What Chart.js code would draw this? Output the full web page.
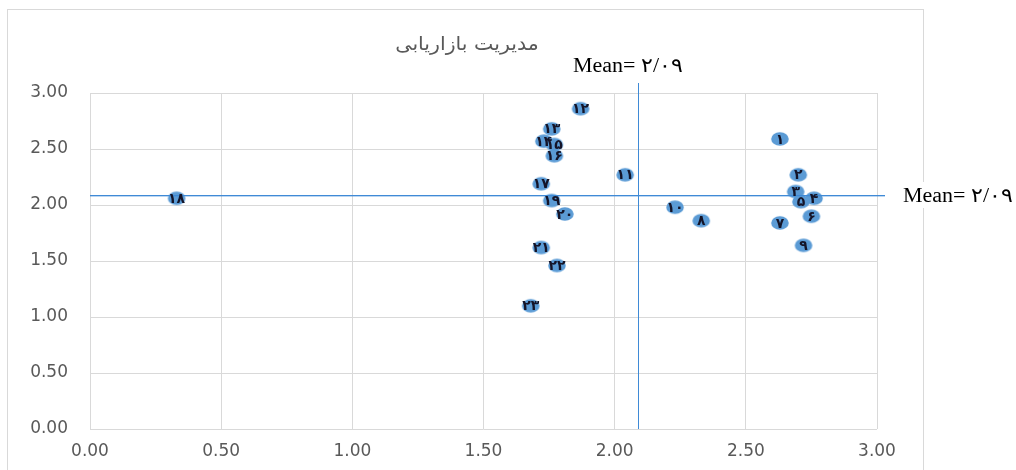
<!DOCTYPE html>
<html>
<head>
<meta charset="utf-8">
<script src="https://cdn.jsdelivr.net/npm/chart.js@4"></script>
<style>
html,body{margin:0;padding:0;background:#fff;}
#wrap{width:1016px;height:470px;position:relative;}
</style>
</head>
<body>
<div id="wrap"><canvas id="c" width="1016" height="470"></canvas></div>
<script>
const title = 'مدیریت بازاریابی';
const pointIds = ['۱','۲','۳','۴','۵','۶','۷','۸','۹','۱۰','۱۱','۱۲','۱۳','۱۴','۱۵','۱۶','۱۷','۱۸','۱۹','۲۰','۲۱','۲۲','۲۳'];
const xValues = [2.63,2.70,2.69,2.76,2.71,2.75,2.63,2.33,2.72,2.23,2.04,1.87,1.76,1.73,1.77,1.77,1.72,0.33,1.76,1.81,1.72,1.78,1.68];
const yValues = [2.59,2.27,2.12,2.06,2.03,1.90,1.84,1.86,1.64,1.98,2.27,2.86,2.68,2.57,2.54,2.44,2.19,2.06,2.04,1.92,1.62,1.46,1.10];
const meanX = 2.09;
const meanY = 2.09;
const meanLabel = 'Mean= ۲/۰۹';
const xTicks = [0,0.5,1,1.5,2,2.5,3];
const yTicks = [0,0.5,1,1.5,2,2.5,3];

const points = xValues.map((x,i)=>({x:x,y:yValues[i]}));

// ellipse marker image
const mk = document.createElement('canvas');
mk.width = 20; mk.height = 16;
(function(){
  const g = mk.getContext('2d');
  g.fillStyle = '#5b9bd5';
  g.beginPath();
  g.ellipse(10,8,8.8,6.8,0,0,Math.PI*2);
  g.fill();
})();

function stretchText(ctx, txt, x, y, sx){
  ctx.save();
  ctx.translate(x,y);
  ctx.scale(sx,1);
  ctx.fillText(txt,0,0);
  ctx.restore();
}

const decor = {
  id:'decor',
  beforeDraw(chart){
    const ctx = chart.ctx;
    ctx.save();
    ctx.fillStyle='#fff';
    ctx.fillRect(0,0,chart.width,chart.height);
    ctx.strokeStyle='#d9d9d9';
    ctx.lineWidth=1;
    ctx.strokeRect(7.5,9.5,916,480);
    ctx.restore();
  },
  afterDatasetsDraw(chart){
    const ctx = chart.ctx;
    const xs = chart.scales.x, ys = chart.scales.y;
    const a = chart.chartArea;
    ctx.save();
    // mean lines
    ctx.fillStyle='#3f8ad6';
    const px = Math.round(xs.getPixelForValue(meanX));
    const py = Math.round(ys.getPixelForValue(meanY));
    ctx.fillRect(px, a.top-10, 1, a.bottom-a.top+10);
    ctx.fillRect(a.left, py, a.right+8-a.left, 1);
    ctx.fillStyle='rgba(63,138,214,0.35)';
    ctx.fillRect(a.left, py+1, a.right+8-a.left, 1);
    // point labels
    const meta = chart.getDatasetMeta(0);
    ctx.fillStyle='#141428';
    ctx.font='bold 14px "DejaVu Sans"';
    ctx.textAlign='center';
    ctx.textBaseline='middle';
    meta.data.forEach((el,i)=>{
      ctx.fillText(pointIds[i], el.x, el.y+1);
    });
    // title
    ctx.fillStyle='#595959';
    ctx.font='19px "DejaVu Sans"';
    stretchText(ctx, title, 467, 45, 1.08);
    // mean labels
    ctx.font='20px "Liberation Serif"';
    ctx.textAlign='left';
    const sx = 1.1;
    const w = ctx.measureText(meanLabel).width*sx;
    ctx.fillStyle='#000';
    stretchText(ctx, meanLabel, px-65, 67, sx);
    ctx.fillStyle='#fff';
    ctx.fillRect(a.right+22, py-13, w+10, 26);
    ctx.fillStyle='#000';
    stretchText(ctx, meanLabel, a.right+26, py+2, sx);
    ctx.restore();
  }
};

new Chart(document.getElementById('c'), {
  type:'scatter',
  data:{datasets:[{
    data:points,
    pointStyle:mk,
    pointRadius:8,
    backgroundColor:'#5b9bd5',
    borderColor:'#5b9bd5'
  }]},
  options:{
    responsive:false,
    animation:false,
    events:[],
    layout:{padding:{left:0,top:93,right:139,bottom:0}},
    plugins:{legend:{display:false},tooltip:{enabled:false},title:{display:false}},
    scales:{
      x:{
        type:'linear', min:0, max:3,
        afterBuildTicks(s){ s.ticks = xTicks.map(v=>({value:v})); },
        afterFit(s){ s.height = 41; },
        ticks:{ color:'#595959', font:{family:'"DejaVu Sans"', size:17}, padding:12,
          callback:v=>Number(v).toFixed(2) },
        grid:{ color:'#d9d9d9', drawTicks:false },
        border:{ display:false }
      },
      y:{
        type:'linear', min:0, max:3,
        afterBuildTicks(s){ s.ticks = yTicks.map(v=>({value:v})); },
        afterFit(s){ s.width = 90; },
        ticks:{ color:'#595959', font:{family:'"DejaVu Sans"', size:17}, padding:22,
          callback:v=>Number(v).toFixed(2) },
        grid:{ color:'#d9d9d9', drawTicks:false },
        border:{ display:false }
      }
    }
  },
  plugins:[decor]
});
</script>
</body>
</html>
